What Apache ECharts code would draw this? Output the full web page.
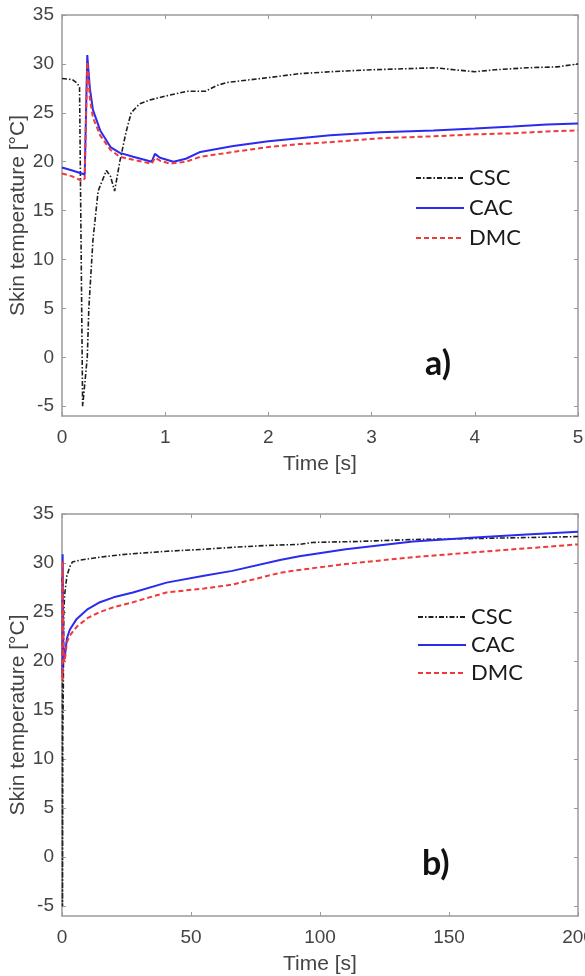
<!DOCTYPE html>
<html>
<head>
<meta charset="utf-8">
<script src="https://cdn.jsdelivr.net/npm/echarts@6/dist/echarts.min.js"></script>
<style>
  html, body { margin: 0; padding: 0; background: #fff; }
  #chart { width: 585px; height: 976px; }
</style>
</head>
<body>
<div id="chart"></div>
<script>
// Panel a) : first 5 seconds, [time s, skin temperature C]
var cscA = [[0, 28.5], [0.1, 28.4], [0.15, 28.0], [0.17, 27.6], [0.2, -5], [0.245, 0], [0.26, 5], [0.3, 12],
    [0.35, 17], [0.43, 19.1], [0.47, 18.5], [0.51, 17], [0.56, 20], [0.62, 23], [0.67, 25], [0.75, 25.9],
    [0.85, 26.3], [1.0, 26.7], [1.21, 27.2], [1.39, 27.2], [1.5, 27.8], [1.6, 28.1], [2.0, 28.6], [2.3, 29.0],
    [2.6, 29.2], [3.0, 29.4], [3.3, 29.5], [3.63, 29.6], [3.8, 29.4], [4.0, 29.2], [4.2, 29.4], [4.5, 29.6],
    [4.8, 29.7], [5, 30.0]];
var cacA = [[0, 19.4], [0.1, 19.1], [0.22, 18.7], [0.245, 30.9], [0.27, 27.5], [0.3, 25.3], [0.37, 23.2],
    [0.47, 21.5], [0.56, 20.9], [0.69, 20.5], [0.87, 20.0], [0.9, 20.8], [0.95, 20.4], [1.08, 20.0], [1.2, 20.3],
    [1.34, 21.0], [1.66, 21.6], [2.0, 22.1], [2.3, 22.4], [2.6, 22.7], [3.08, 23.0], [3.6, 23.2], [4.0, 23.4],
    [4.37, 23.6], [4.7, 23.8], [5, 23.9]];
var dmcA = [[0, 18.8], [0.1, 18.5], [0.2, 18.0], [0.22, 18.3], [0.245, 30.2], [0.27, 26.5], [0.3, 24.5],
    [0.37, 22.7], [0.47, 21.2], [0.56, 20.5], [0.69, 20.2], [0.87, 19.8], [0.9, 20.4], [0.95, 20.1], [1.05, 19.8],
    [1.2, 20.0], [1.34, 20.5], [1.66, 21.0], [2.0, 21.5], [2.3, 21.8], [2.6, 22.0], [3.08, 22.4], [3.6, 22.6],
    [4.0, 22.8], [4.37, 22.9], [4.7, 23.1], [5, 23.2]];

// Panel b) : whole 200 seconds
var cscB = [[0, 28.5], [0.17, 27.6], [0.2, -5], [0.3, 12], [0.5, 17], [0.7, 25], [1, 26.7], [1.9, 28.7],
    [3, 29.6], [4, 30.1], [7, 30.3], [14.7, 30.6], [25, 30.9], [40.5, 31.2], [55, 31.4], [66, 31.6], [80, 31.8],
    [92, 31.9], [97, 32.1], [115, 32.2], [136, 32.4], [160, 32.5], [180, 32.6], [200, 32.7]];
var cacB = [[0, 19.3], [0.2, 18.7], [0.25, 30.9], [0.5, 21.5], [1, 20.3], [1.9, 22.3], [3, 23.2], [5.7, 24.3],
    [10, 25.3], [14.7, 26.0], [20, 26.5], [27.5, 27.0], [40.5, 28.0], [55, 28.7], [66, 29.2], [84.5, 30.3],
    [92, 30.7], [110, 31.4], [136, 32.2], [160, 32.6], [180, 32.9], [200, 33.2]];
var dmcB = [[0, 18.8], [0.2, 18.0], [0.25, 30.2], [0.5, 21], [1, 19.9], [1.9, 21.9], [3, 22.6], [5.7, 23.5],
    [10, 24.4], [14.7, 25.0], [20, 25.5], [27.5, 26.0], [40.5, 27.0], [55, 27.4], [66, 27.8], [84.5, 29.0],
    [92, 29.3], [110, 29.9], [136, 30.6], [160, 31.1], [180, 31.5], [200, 31.9]];

var tempTicks = [-5, 0, 5, 10, 15, 20, 25, 30, 35];
var seriesNames = ['CSC', 'CAC', 'DMC'];

var axisGrey = '#9a9a9a';
var labelGrey = '#444';
var font = '"Liberation Sans", Arial, sans-serif';

var myChart = echarts.init(document.getElementById('chart'));

// a box like matlab: labelled axis + mirrored one with inside ticks only
function xAxes(gridIndex, max, interval) {
    var base = {
        gridIndex: gridIndex,
        type: 'value',
        min: 0,
        max: max,
        interval: interval,
        splitLine: { show: false },
        axisLine: { onZero: false, lineStyle: { color: axisGrey, width: 1.5 } },
        axisTick: { inside: true, length: 4, lineStyle: { color: axisGrey } }
    };
    var bottom = Object.assign({}, base, {
        position: 'bottom',
        name: 'Time [s]',
        nameLocation: 'middle',
        nameGap: 38,
        nameTextStyle: { color: labelGrey, fontSize: 21, fontFamily: font },
        axisLabel: { color: labelGrey, fontSize: 19, fontFamily: font, margin: 12 }
    });
    var top = Object.assign({}, base, { position: 'top', axisLabel: { show: false } });
    return [bottom, top];
}

function yAxes(gridIndex) {
    var base = {
        gridIndex: gridIndex,
        type: 'value',
        min: -6,
        max: 35,
        splitLine: { show: false },
        axisLine: { onZero: false, lineStyle: { color: axisGrey, width: 1.5 } },
        axisTick: { inside: true, length: 4, customValues: tempTicks, lineStyle: { color: axisGrey } }
    };
    var left = Object.assign({}, base, {
        position: 'left',
        name: 'Skin temperature [°C]',
        nameLocation: 'middle',
        nameGap: 33,
        nameMoveOverlap: false,
        nameTextStyle: { color: labelGrey, fontSize: 21, fontFamily: font },
        axisLabel: { color: labelGrey, fontSize: 19, fontFamily: font, margin: 8, customValues: tempTicks }
    });
    var right = Object.assign({}, base, { position: 'right', axisLabel: { show: false } });
    return [left, right];
}

function makeSeries(name, data, axisIndex) {
    var style;
    if (name === 'CSC') {
        style = { color: '#1e1e1e', width: 1.6, type: [5, 2, 1.5, 2] };
    } else if (name === 'CAC') {
        style = { color: '#2b2bf0', width: 2 };
    } else {
        style = { color: '#f03a3a', width: 2, type: [5, 3] };
    }
    return {
        name: name,
        type: 'line',
        xAxisIndex: axisIndex,
        yAxisIndex: axisIndex,
        data: data,
        symbol: 'none',
        smooth: false,
        color: style.color,
        lineStyle: style
    };
}

var legendBase = {
    orient: 'vertical',
    data: seriesNames,
    itemWidth: 48,
    itemHeight: 14,
    itemGap: 8,
    itemStyle: { opacity: 0 },
    textStyle: { color: '#1a1a1a', fontSize: 22, fontFamily: 'Lato', padding: [0, 0, 0, 0] }
};

var option = {
    animation: false,
    grid: [
        { left: 62, top: 15, width: 516, height: 401, outerBoundsMode: 'none', containLabel: false },
        { left: 62, top: 514, width: 516, height: 402, outerBoundsMode: 'none', containLabel: false }
    ],
    xAxis: xAxes(0, 5, 1).concat(xAxes(1, 200, 50)),
    yAxis: yAxes(0).concat(yAxes(1)),
    legend: [
        Object.assign({}, legendBase, { left: 410, top: 162 }),
        Object.assign({}, legendBase, { left: 412, top: 601, itemGap: 6 })
    ],
    title: [
        { text: 'a)', left: 420, top: 342, textStyle: { fontSize: 34, fontWeight: 'bold', fontFamily: 'Lato', color: '#111' } },
        { text: 'b)', left: 417, top: 842, textStyle: { fontSize: 34, fontWeight: 'bold', fontFamily: 'Lato', color: '#111' } }
    ],
    series: [
        makeSeries('CSC', cscA, 0),
        makeSeries('CAC', cacA, 0),
        makeSeries('DMC', dmcA, 0),
        makeSeries('CSC', cscB, 2),
        makeSeries('CAC', cacB, 2),
        makeSeries('DMC', dmcB, 2)
    ]
};

myChart.setOption(option);
</script>
</body>
</html>
